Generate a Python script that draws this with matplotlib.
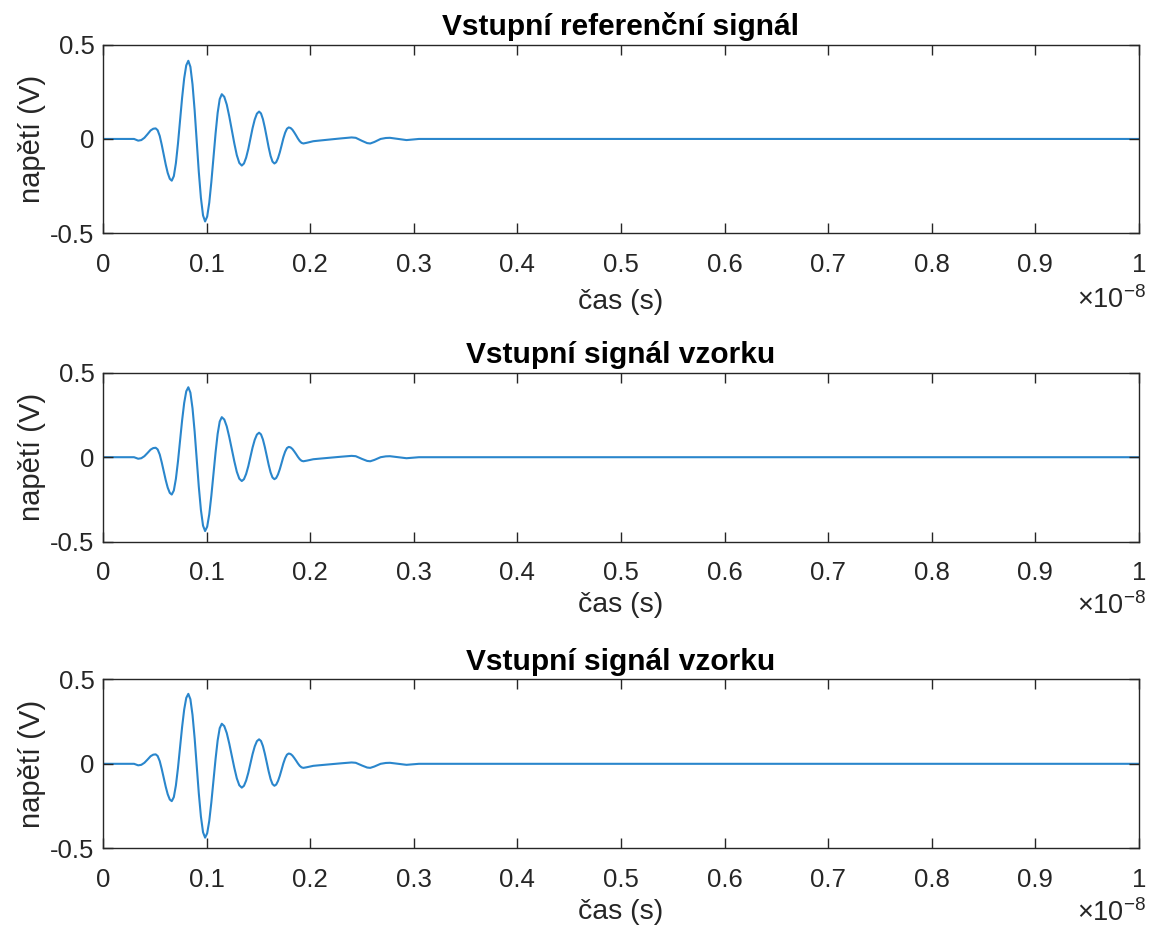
import matplotlib
matplotlib.use("Agg")
import matplotlib.pyplot as plt
import numpy as np

plt.rcParams['font.family'] = ['Liberation Sans', 'DejaVu Sans']
plt.rcParams['mathtext.default'] = 'regular'

# cas v ns, napeti ve V
t_ns = [0.0, 0.10, 0.20, 0.30, 0.34, 0.37, 0.40, 0.43, 0.46, 0.485, 0.509,
        0.528, 0.548, 0.567, 0.5865, 0.606, 0.625, 0.645, 0.664,
        0.684, 0.704, 0.724, 0.744, 0.764, 0.784, 0.804, 0.824,
        0.844, 0.8645, 0.885, 0.905, 0.925, 0.9455, 0.966, 0.986,
        1.006, 1.026, 1.046, 1.0665, 1.087, 1.107, 1.127, 1.147,
        1.171, 1.195, 1.219, 1.2435, 1.268, 1.292, 1.316, 1.34,
        1.361, 1.382, 1.403, 1.4235, 1.444, 1.465, 1.486, 1.507,
        1.5255, 1.544, 1.5625, 1.581, 1.5995, 1.618, 1.6365, 1.655,
        1.672, 1.6895, 1.707, 1.724, 1.741, 1.7585, 1.776, 1.793,
        1.811, 1.8285, 1.846, 1.864, 1.882, 1.8995, 1.917, 1.935,
        1.97, 2.03, 2.10, 2.19, 2.30, 2.40, 2.44, 2.50, 2.55, 2.58, 2.62,
        2.68, 2.73, 2.77, 2.85, 2.93, 3.05, 3.30, 5.0, 7.5, 10.0]
napeti = [0.0, 0.0, 0.0, 0.0, -0.009, -0.006, 0.006, 0.025, 0.045, 0.054, 0.056,
          0.046, 0.016, -0.030, -0.083, -0.136, -0.180, -0.211, -0.221,
          -0.197, -0.128, -0.025, 0.097, 0.218, 0.321, 0.390, 0.414,
          0.382, 0.289, 0.151, -0.012, -0.174, -0.312, -0.405, -0.437,
          -0.411, -0.338, -0.229, -0.100, 0.029, 0.138, 0.211, 0.237,
          0.223, 0.182, 0.120, 0.048, -0.024, -0.086, -0.127, -0.141,
          -0.130, -0.099, -0.053, 0.002, 0.057, 0.103, 0.134, 0.145,
          0.135, 0.105, 0.060, 0.008, -0.045, -0.090, -0.120, -0.130,
          -0.123, -0.102, -0.071, -0.035, 0.002, 0.033, 0.054, 0.061,
          0.058, 0.049, 0.035, 0.019, 0.002, -0.012, -0.021, -0.024,
          -0.020, -0.012, -0.008, -0.003, 0.003, 0.008, 0.006, -0.010, -0.022, -0.024, -0.016,
          0.0, 0.005, 0.006, 0.0, -0.006, 0.0, 0.0, 0.0, 0.0, 0.0]

titulky = ['Vstupní referenční signál', 'Vstupní signál vzorku', 'Vstupní signál vzorku']
xticks = [0, 0.1, 0.2, 0.3, 0.4, 0.5, 0.6, 0.7, 0.8, 0.9, 1]
xlabels = ['0', '0.1', '0.2', '0.3', '0.4', '0.5', '0.6', '0.7', '0.8', '0.9', '1']
yticks = [-0.5, 0, 0.5]
ylabels = ['-0.5', '0', '0.5']

t = np.array(t_ns) * 1e-9
v = np.array(napeti)

fig = plt.figure(figsize=(11.53, 9.26), dpi=100)
pozice = [[0.0893, 0.748, 0.8985, 0.2039],
          [0.0893, 0.415, 0.8985, 0.1825],
          [0.0893, 0.0839, 0.8985, 0.1825]]

seda = '#262626'
for i in range(3):
    ax = fig.add_axes(pozice[i])
    ax.plot(t, v, color='#2a86cc', linewidth=1.5, zorder=1)
    ax.set_xlim(0, 1e-8)
    ax.set_ylim(-0.5, 0.5)
    ax.set_xticks(np.array(xticks) * 1e-8)
    ax.set_xticklabels(xlabels)
    ax.set_yticks(yticks)
    ax.set_yticklabels(ylabels)
    ax.tick_params(direction='in', length=7.5, width=1, colors=seda, labelsize=18.5,
                   top=True, right=True)
    ax.tick_params(axis='x', pad=14)
    ax.tick_params(axis='y', pad=6)
    for s in ax.spines.values():
        s.set_color(seda)
        s.set_linewidth(1)
    ax.set_title(titulky[i], fontsize=21.5, fontweight='bold', pad=7)
    ax.set_xlabel('čas (s)', fontsize=20.5, color=seda, labelpad=9 if i == 0 else 5)
    ax.set_ylabel('napětí (V)', fontsize=21, color=seda, labelpad=3)
    ax.annotate(r'$\times10^{-8}$', xy=(1, 0), xycoords='axes fraction',
                xytext=(5, -48 if i == 0 else -46.5), textcoords='offset points',
                ha='right', va='center', fontsize=19.5, color=seda)

plt.savefig('out.png', dpi=100)
